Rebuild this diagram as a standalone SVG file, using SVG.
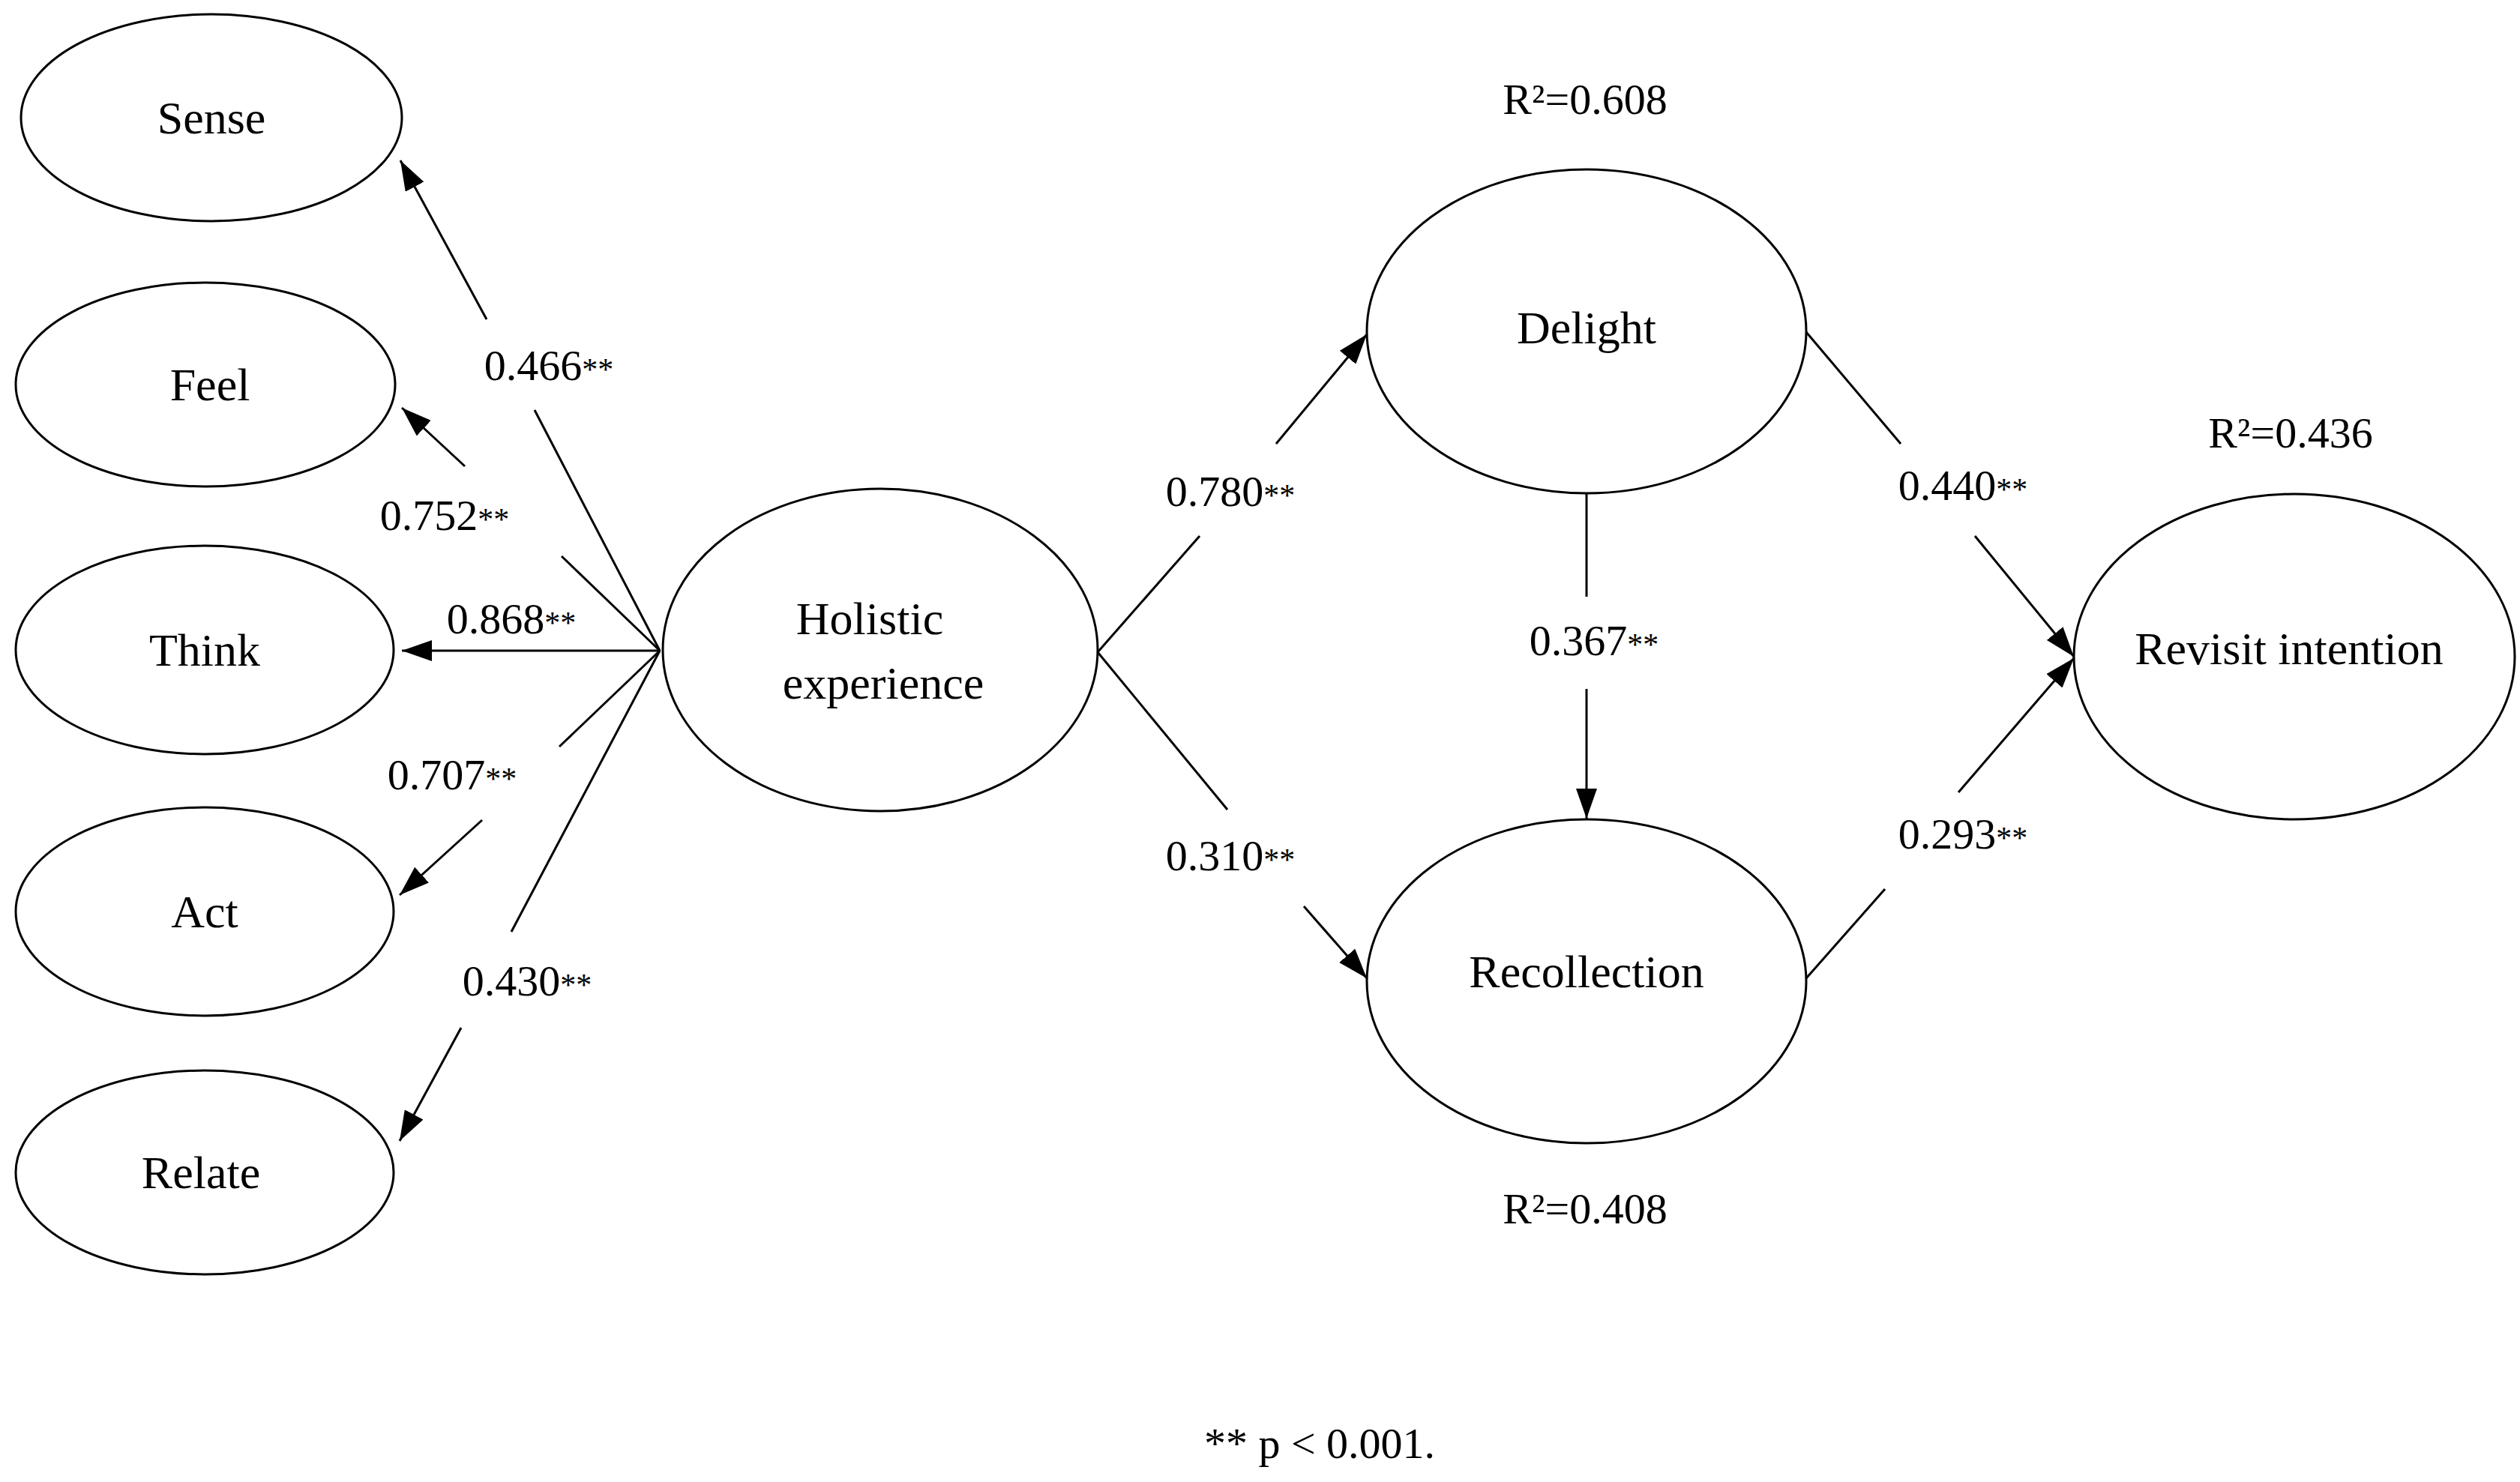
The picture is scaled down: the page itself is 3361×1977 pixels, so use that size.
<svg xmlns="http://www.w3.org/2000/svg" width="3361" height="1977" viewBox="0 0 3361 1977">
<style>
.n{fill:#fff;stroke:#000;stroke-width:3}
.t{font-family:"Liberation Serif",serif;font-size:62px;fill:#000;text-anchor:middle}
.l{font-family:"Liberation Serif",serif;font-size:58px;fill:#000;text-anchor:middle}
.s{font-size:42px}
.c line{stroke:#000;stroke-width:3}
</style>
<defs>
<marker id="a" viewBox="0 0 40 28" refX="40" refY="14" markerWidth="40" markerHeight="28" markerUnits="userSpaceOnUse" orient="auto"><path d="M0,0L40,14L0,28z" fill="#000"/></marker>
</defs>
<rect width="3361" height="1977" fill="#fff"/>
<g id="sense"><ellipse class="n" cx="282" cy="157" rx="254" ry="138"/><text class="t" x="282" y="178">Sense</text></g>
<g id="feel"><ellipse class="n" cx="274" cy="513" rx="253" ry="136"/><text class="t" x="280" y="534">Feel</text></g>
<g id="think"><ellipse class="n" cx="273" cy="867" rx="252" ry="139"/><text class="t" x="273" y="888">Think</text></g>
<g id="act"><ellipse class="n" cx="273" cy="1216" rx="252" ry="139"/><text class="t" x="273" y="1237">Act</text></g>
<g id="relate"><ellipse class="n" cx="273" cy="1564" rx="252" ry="136"/><text class="t" x="268" y="1585">Relate</text></g>
<g id="holistic"><ellipse class="n" cx="1174" cy="867" rx="290" ry="215"/><text class="t" x="1160" y="846">Holistic</text><text class="t" x="1178" y="932">experience</text></g>
<g id="delight"><ellipse class="n" cx="2116" cy="442" rx="293" ry="216"/><text class="t" x="2116" y="458">Delight</text></g>
<g id="recollection"><ellipse class="n" cx="2116" cy="1309" rx="293" ry="216"/><text class="t" x="2116" y="1317">Recollection</text></g>
<g id="revisit"><ellipse class="n" cx="3060" cy="876" rx="294" ry="217"/><text class="t" x="3053" y="886">Revisit  intention</text></g>
<g class="c">
<line x1="713" y1="547" x2="880" y2="868"/><line x1="649" y1="426" x2="534" y2="214" marker-end="url(#a)"/>
<line x1="749" y1="742" x2="880" y2="868"/><line x1="620" y1="622" x2="536" y2="544" marker-end="url(#a)"/>
<line x1="880" y1="868" x2="536" y2="868" marker-end="url(#a)"/>
<line x1="880" y1="868" x2="746" y2="996"/><line x1="643" y1="1094" x2="533" y2="1194" marker-end="url(#a)"/>
<line x1="880" y1="868" x2="682" y2="1243"/><line x1="615" y1="1371" x2="533" y2="1522" marker-end="url(#a)"/>
<line x1="1464" y1="870" x2="1600" y2="715"/><line x1="1702" y1="592" x2="1823" y2="446" marker-end="url(#a)"/>
<line x1="1464" y1="870" x2="1637" y2="1080"/><line x1="1739" y1="1209" x2="1823" y2="1305" marker-end="url(#a)"/>
<line x1="2116" y1="658" x2="2116" y2="796"/><line x1="2116" y1="919" x2="2116" y2="1092" marker-end="url(#a)"/>
<line x1="2409" y1="443" x2="2535" y2="592"/><line x1="2634" y1="715" x2="2766" y2="876" marker-end="url(#a)"/>
<line x1="2409" y1="1305" x2="2514" y2="1186"/><line x1="2612" y1="1057" x2="2766" y2="878" marker-end="url(#a)"/>
</g>
<g id="labels">
<text class="l" x="732" y="507">0.466<tspan class="s">**</tspan></text>
<text class="l" x="593" y="707">0.752<tspan class="s">**</tspan></text>
<text class="l" x="682" y="845">0.868<tspan class="s">**</tspan></text>
<text class="l" x="603" y="1053">0.707<tspan class="s">**</tspan></text>
<text class="l" x="703" y="1328">0.430<tspan class="s">**</tspan></text>
<text class="l" x="1641" y="675">0.780<tspan class="s">**</tspan></text>
<text class="l" x="1641" y="1161">0.310<tspan class="s">**</tspan></text>
<text class="l" x="2126" y="874">0.367<tspan class="s">**</tspan></text>
<text class="l" x="2618" y="667">0.440<tspan class="s">**</tspan></text>
<text class="l" x="2618" y="1132">0.293<tspan class="s">**</tspan></text>
<text class="l" x="2114" y="152">R²=0.608</text>
<text class="l" x="3055" y="597">R²=0.436</text>
<text class="l" x="2114" y="1632">R²=0.408</text>
<text class="l" x="1760" y="1945">** p &lt; 0.001.</text>
</g>
</svg>
